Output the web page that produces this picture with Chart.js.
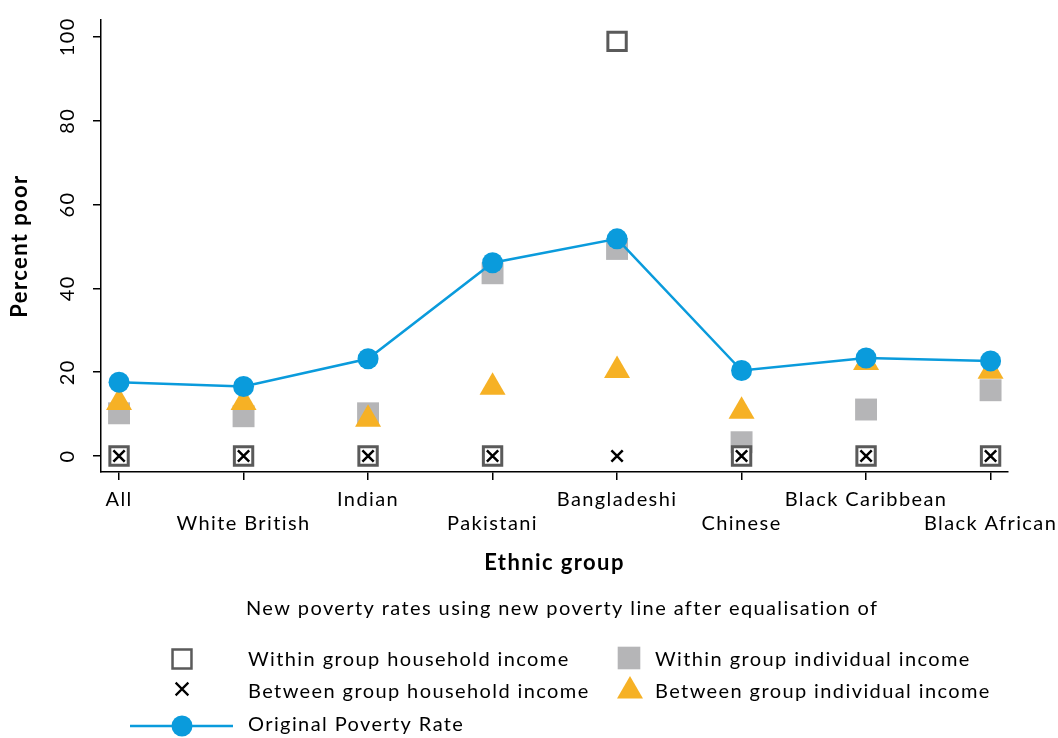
<!DOCTYPE html>
<html>
<head>
<meta charset="utf-8">
<title>Poverty rates by ethnic group</title>
<script src="https://cdn.jsdelivr.net/npm/chart.js@4.4.1/dist/chart.umd.min.js"></script>
<style>
  html, body { margin: 0; padding: 0; background: #fff; }
  #wrap { width: 1058px; height: 738px; position: relative; }
</style>
</head>
<body>
<div id="wrap"><canvas id="chart" width="1058" height="738"></canvas></div>
<script>
// Ethnic groups along the x axis
const groups = ['All', 'White British', 'Indian', 'Pakistani', 'Bangladeshi', 'Chinese', 'Black Caribbean', 'Black African'];

// Percent poor for each group
const originalRate      = [17.6, 16.6, 23.2, 46.1, 51.8, 20.4, 23.4, 22.7];
const withinIndividual  = [10.2, 9.5, 10.2, 43.6, 49.4, 3.3, 11.1, 15.7];
const betweenIndividual = [12.8, 12.8, 8.8, 16.4, 20.4, 10.7, 22.3, 20.2];
const withinHousehold   = [0, 0, 0, 0, 98.9, 0, 0, 0];
const betweenHousehold  = [0, 0, 0, 0, 0, 0, 0, 0];

// Y axis tick values
const yTicks = [0, 20, 40, 60, 80, 100];

const FONT = 'Lato, "Open Sans", sans-serif';
const SPACING = '1.4px';
const BLUE = '#0a9bdc';
const ORANGE = '#f6b125';
const GREY = '#b5b5b7';
const DARK = '#5a5a5a';

const toPoints = arr => arr.map((v, i) => (v === null ? null : { x: i, y: v }));

// Slightly open letter spacing for all text on the canvas
const textSpacing = {
  id: 'textSpacing',
  beforeDraw(chart) {
    if ('letterSpacing' in chart.ctx) chart.ctx.letterSpacing = SPACING;
  }
};

// Legend drawn below the plot, reusing the dataset styles
const legendBlock = {
  id: 'legendBlock',
  afterDraw(chart) {
    const ctx = chart.ctx;
    const drawPoint = Chart.helpers && Chart.helpers.drawPoint;
    ctx.save();
    if ('letterSpacing' in ctx) ctx.letterSpacing = SPACING;
    ctx.fillStyle = '#000';
    ctx.font = '20px ' + FONT;
    ctx.textBaseline = 'middle';
    ctx.textAlign = 'left';
    ctx.fillText('New poverty rates using new poverty line after equalisation of', 246, 609);

    const items = [
      { ds: 3, x: 182, y: 659, ty: 660, tx: 248, text: 'Within group household income', r: 13.4, bw: 2.5 },
      { ds: 4, x: 629, y: 658, ty: 660, tx: 655, text: 'Within group individual income', r: 16 },
      { ds: 2, x: 182, y: 689, ty: 692, tx: 248, text: 'Between group household income', r: 9, bw: 2.2 },
      { ds: 1, x: 630, y: 691, ty: 692, tx: 655, text: 'Between group individual income', r: 15 },
      { ds: 0, x: 182, y: 726, ty: 725, tx: 248, text: 'Original Poverty Rate', r: 10.5, line: true }
    ];
    items.forEach(it => {
      const d = chart.data.datasets[it.ds];
      if (it.line) {
        ctx.strokeStyle = d.borderColor;
        ctx.lineWidth = d.borderWidth;
        ctx.beginPath();
        ctx.moveTo(130, it.y);
        ctx.lineTo(233, it.y);
        ctx.stroke();
      }
      const bw = it.bw !== undefined ? it.bw : d.pointBorderWidth;
      ctx.fillStyle = d.pointBackgroundColor;
      ctx.strokeStyle = d.pointBorderColor;
      ctx.lineWidth = bw;
      if (drawPoint) {
        drawPoint(ctx, { pointStyle: d.pointStyle, radius: it.r, rotation: 0, borderWidth: bw }, it.x, it.y);
      }
      ctx.fillStyle = '#000';
      ctx.fillText(it.text, it.tx, it.ty);
    });
    ctx.restore();
  }
};

new Chart(document.getElementById('chart'), {
  type: 'line',
  data: {
    datasets: [
      {
        label: 'Original Poverty Rate',
        data: toPoints(originalRate),
        order: 0,
        borderColor: BLUE,
        borderWidth: 2.5,
        pointStyle: 'circle',
        pointRadius: 10.5,
        pointBackgroundColor: BLUE,
        pointBorderColor: BLUE,
        pointBorderWidth: 0,
        tension: 0
      },
      {
        label: 'Between group individual income',
        data: toPoints(betweenIndividual),
        order: 1,
        showLine: false,
        pointStyle: 'triangle',
        pointRadius: 15,
        pointBackgroundColor: ORANGE,
        pointBorderColor: ORANGE,
        pointBorderWidth: 0
      },
      {
        label: 'Between group household income',
        data: toPoints(betweenHousehold),
        order: 2,
        showLine: false,
        pointStyle: 'crossRot',
        pointRadius: 8,
        pointBackgroundColor: '#000',
        pointBorderColor: '#000',
        pointBorderWidth: 2.5
      },
      {
        label: 'Within group household income',
        data: toPoints(withinHousehold),
        order: 3,
        showLine: false,
        pointStyle: 'rect',
        pointRadius: 13,
        pointBackgroundColor: '#fff',
        pointBorderColor: DARK,
        pointBorderWidth: 3
      },
      {
        label: 'Within group individual income',
        data: toPoints(withinIndividual),
        order: 4,
        showLine: false,
        pointStyle: 'rect',
        pointRadius: 15.5,
        pointBackgroundColor: GREY,
        pointBorderColor: GREY,
        pointBorderWidth: 0
      }
    ]
  },
  options: {
    responsive: false,
    animation: false,
    devicePixelRatio: 1,
    layout: { autoPadding: false, padding: { left: 0, top: 18, right: 50, bottom: 156 } },
    plugins: { legend: { display: false }, tooltip: { enabled: false } },
    scales: {
      x: {
        type: 'linear',
        min: -0.145,
        max: 7.14,
        afterBuildTicks: s => { s.ticks = groups.map((g, i) => ({ value: i })); },
        afterFit: s => { s.height = 110; },
        grid: { drawOnChartArea: false, drawTicks: true, tickLength: 8, color: '#000', lineWidth: 1.5 },
        border: { display: true, color: '#000', width: 1.5 },
        ticks: {
          autoSkip: false,
          maxRotation: 0,
          minRotation: 0,
          padding: 8,
          color: '#000',
          font: { family: FONT, size: 20 },
          callback: v => (v % 2 === 0 ? [groups[v], ''] : ['', groups[v]])
        },
        title: {
          display: true,
          text: 'Ethnic group',
          color: '#000',
          font: { family: FONT, size: 22, weight: 'bold' },
          padding: { top: 0, bottom: 6 }
        }
      },
      y: {
        type: 'linear',
        min: -3.8,
        max: 104,
        afterBuildTicks: s => { s.ticks = yTicks.map(v => ({ value: v })); },
        afterFit: s => { s.width = 101; },
        grid: { drawOnChartArea: false, drawTicks: true, tickLength: 8, color: '#000', lineWidth: 1.5 },
        border: { display: true, color: '#000', width: 1.5 },
        ticks: {
          minRotation: 90,
          maxRotation: 90,
          crossAlign: 'center',
          padding: 8,
          color: '#000',
          font: { family: FONT, size: 20 }
        },
        title: {
          display: true,
          text: 'Percent poor',
          color: '#000',
          font: { family: FONT, size: 22, weight: 'bold' },
          padding: { top: 7, bottom: 0 }
        }
      }
    }
  },
  plugins: [textSpacing, legendBlock]
});
</script>
</body>
</html>
